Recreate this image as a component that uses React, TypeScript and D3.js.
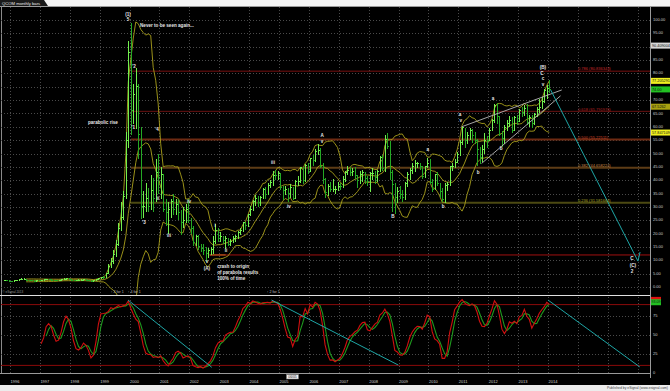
import React from "react";
import * as d3 from "d3";

// ---------- DATA (monthly bars, first bar = Oct 1995) ----------
const firstYear = 1995;
const firstMonth = 9; // October (0-based)

const highs = [
  2.6, 2.6, 2.5,
  2.4, 2.5, 2.7, 2.9, 3.2, 3.2, 3.0, 2.7, 2.6, 2.5, 2.6, 2.6,
  2.7, 2.9, 3.1, 3.0, 2.9, 2.8, 2.7, 2.8, 3.0, 3.2, 3.3, 3.1,
  3.0, 2.8, 2.8, 2.9, 2.9, 3.0, 2.9, 2.7, 2.5, 2.8, 3.1, 3.4,
  3.9, 4.0, 5.4, 8.6, 11.0, 13.8, 17.5, 24.0, 32.0, 36.0, 58.0, 92.0,
  99.0, 76, 82, 76, 60, 36, 39, 37, 42, 41, 48, 50,
  45, 42, 33, 32, 33, 35, 33, 33, 29, 30, 31, 33,
  26, 23, 19.5, 19.5, 16, 16, 15, 14.5, 15, 19, 23.5, 22,
  20.5, 19, 19, 18.5, 18, 19, 19.5, 21, 22, 24.5, 24.5, 27.5,
  30.5, 32.5, 34.5, 34, 34, 37, 37.5, 39, 40, 43.5, 44, 43.5,
  42.5, 38, 38, 37, 38.5, 37.5, 40, 41.5, 45, 45, 46, 46.5,
  48.5, 49.5, 51.5, 53.5, 52, 46.5, 41, 38.5, 39.5, 40.5, 38, 39.5,
  39, 41.5, 43.5, 45.5, 45, 44.5, 45, 42, 43.5, 44, 43, 41.5,
  43, 44.5, 43.5, 44, 49, 49.5, 57, 57.5, 54.5, 44, 39, 37.5,
  38, 36.5, 39.5, 43, 44.5, 46.5, 47.5, 47, 46.5, 45.5, 45.5, 48.5,
  48, 40.5, 42.5, 43, 39, 37, 39, 39.5, 45.5, 46.5, 48, 50.5,
  55, 60, 59.5, 58, 59.5, 59, 58, 55.5, 52.5, 53, 57.5, 56.5,
  59.5, 63, 68.5, 68.8, 64, 58.5, 60.5, 62.5, 64, 63.5, 64, 64.5,
  66.5, 67.5, 68, 68.5, 64.5, 64.5, 65, 67.5, 70.5, 71, 74, 75.5,
  77.4,
];
const lows = [
  2.1, 2.1, 2.0,
  1.9, 2.0, 2.2, 2.4, 2.6, 2.6, 2.3, 2.2, 2.1, 2.0, 2.1, 2.1,
  2.2, 2.4, 2.6, 2.5, 2.4, 2.3, 2.2, 2.3, 2.5, 2.6, 2.7, 2.6,
  2.4, 2.3, 2.3, 2.4, 2.4, 2.5, 2.3, 2.1, 2.0, 2.1, 2.4, 2.8,
  3.0, 3.1, 3.3, 4.8, 7.0, 8.8, 11.2, 15.5, 21.0, 25.0, 33.0, 52.0,
  57, 61, 59, 48, 25.5, 26, 28, 28, 29, 28, 32, 35,
  33, 28, 23, 20, 26, 27, 27, 25, 19.5, 22, 24, 24,
  20, 15.5, 15.5, 14, 13, 12, 9.5, 11, 12, 12.5, 16, 17,
  17, 16, 14.3, 15.5, 15.5, 16.5, 17, 18, 19.5, 20.5, 21.5, 22.5,
  26.5, 28.5, 30.5, 30, 30.5, 33, 33, 34.5, 37, 38, 40, 40,
  36.5, 32.5, 34.5, 32, 33.5, 32.5, 33, 38, 39, 38.5, 39.5, 42.5,
  43, 45.5, 47, 49.5, 44.5, 38.5, 33.5, 34, 35.5, 35.5, 35, 36,
  36.5, 37, 39.5, 42, 41.5, 41.5, 40.5, 37, 38.5, 39.5, 38.5, 38,
  35.5, 40, 38.5, 39.5, 43, 43.5, 43, 51.5, 40, 28, 27.5, 31.5,
  33, 32, 32.5, 37.5, 40, 42.5, 43, 44.5, 44, 40.5, 41, 44.5,
  38.5, 35.5, 36.5, 38, 33.5, 32, 31.5, 36, 38, 43.5, 44.5, 46.5,
  49, 53, 52, 53.5, 55, 54, 53.5, 45.5, 46, 47, 50, 52,
  54.5, 58.5, 61.5, 61, 56.5, 52.5, 53.5, 58.5, 60, 57.5, 58.5, 60.5,
  62, 63.5, 64, 60.5, 60, 59.5, 60.5, 63.5, 65, 66.5, 69, 70.5,
  72.6,
];
const closes = [
  2.4, 2.3, 2.2,
  2.1, 2.3, 2.5, 2.7, 2.9, 2.9, 2.5, 2.4, 2.3, 2.2, 2.4, 2.3,
  2.5, 2.7, 2.9, 2.7, 2.6, 2.5, 2.4, 2.6, 2.8, 2.9, 3.0, 2.8,
  2.6, 2.5, 2.5, 2.6, 2.6, 2.7, 2.5, 2.3, 2.2, 2.5, 2.9, 3.2,
  3.5, 3.4, 5.0, 7.6, 9.6, 12.0, 16.0, 22.0, 26.0, 34.0, 55.0, 88.0,
  66, 72, 75, 57, 30, 30, 33, 30, 36, 33, 43, 41,
  42, 29, 28, 29, 32, 29, 31, 28, 24, 25, 29, 25,
  22, 16.5, 19, 15, 14.5, 13.8, 12.5, 13.5, 14, 17, 21, 18.2,
  19, 17.5, 18, 16, 17, 18, 19, 20.5, 21, 24, 23, 27,
  29, 32, 33, 31.5, 33.5, 36.5, 34.5, 38, 39, 41.8, 41.6, 42.4,
  37.2, 36, 36.6, 34.9, 37.2, 33, 39.5, 39.7, 44.7, 39.8, 45.5, 43.1,
  48, 47.2, 50.6, 51.3, 45.2, 40.1, 35.3, 37.7, 36.4, 36.4, 36.6, 37.8,
  37.7, 40.4, 42.7, 43.8, 42.9, 43.4, 41.6, 39.9, 42.3, 42.7, 40.8, 39.4,
  42.4, 42.4, 41, 43.2, 48.5, 44.4, 55.3, 52.6, 43, 38.3, 33.6, 35.8,
  34.5, 33.4, 38.9, 42.3, 43.6, 45.2, 46.2, 46.4, 45, 41.4, 45, 46.3,
  39.2, 36.7, 42, 38.7, 35.6, 32.8, 38.1, 38.3, 45.1, 45.1, 46.7, 49.5,
  54.1, 59.6, 54.8, 56.9, 58.6, 56.8, 54.8, 51.5, 48.6, 51.6, 54.8, 54.7,
  58.8, 62.2, 68, 63.8, 57.3, 55.7, 59.7, 61.4, 62.5, 58.6, 63.6, 61.9,
  66, 65.5, 66.9, 61.6, 63.5, 61.1, 64.5, 66.3, 67.3, 69.5, 73.6, 74.3,
  74.0,
];

const yearLabels = ["1996","1997","1998","1999","2000","2001","2002","2003","2004","2005","2006","2007","2008","2009","2010","2011","2012","2013","2014"];
const gridYears = [1996,1997,1998,1999,2000,2001,2002,2003,2004,2005,2006,2007,2008,2009,2010,2011,2012,2013,2014,2015,2016,2017];
const priceTicks = [0,5,10,15,20,25,30,35,40,45,50,55,60,65,70,75,80,85,90,95,100];
const oscTicks = [75,50,25,0];
const oscLevels = [90,10];

const fibRatios = ["0.786","0.618","0.500","0.382","0.236"];
const fibValues = [80.836343, 65.791976, 55.22511, 44.658224, 31.581664];
const fibStart = 2000.05;

const crashLevel = 12;
const crashStart = 2002.68;

// right-axis value flags
const flagValues = [90.409004, 77.205291, 74.0, 67.5262, 57.847109];
const flagTexts = ["90.409004", "77.205291", "74.00", "67.5262", "57.847109"];
const oscFlagValues = [96.2, 93.1];
const oscFlagTexts = ["96.20", "93.09"];

// Elliott-wave & annotation labels (time, price, text)
const waveLabels: [number, number, string][] = [
  [1999.95, 101.9, "(1)"], [1999.95, 99.9, "5"],
  [2000.15, 82.4, "'2"], [2000.12, 59.6, "'1"], [2000.92, 58.8, "'4"],
  [2000.48, 24.0, "'3"], [2000.95, 33.0, "ii"], [2001.32, 19.1, "iii"],
  [2001.99, 31.8, "iv"], [2002.59, 9.6, "v"], [2002.59, 6.8, "(A)"],
  [2002.86, 22.8, "i"], [2003.23, 13.5, "ii"],
  [2004.8, 46.4, "iii"], [2005.33, 30.0, "iv"],
  [2006.44, 56.6, "A"], [2006.44, 54.4, "v"], [2008.81, 26.2, "B"],
  [2009.98, 51.3, "a"], [2010.49, 30.0, "b"],
  [2011.06, 64.4, "a"], [2011.08, 62.2, "v"], [2011.66, 42.7, "b"],
  [2012.16, 70.4, "a"], [2012.43, 51.7, "b"],
  [2013.83, 82.0, "(B)"], [2013.8, 79.8, "C"], [2013.83, 77.9, "c"], [2013.83, 75.7, "v"],
  [2016.81, 10.5, "C"], [2016.84, 7.9, "(C)"], [2016.81, 5.6, "2"],
];
const noteLines: [number, number, string][] = [
  [2000.35, 97.8, "Never to be seen again..."],
  [1998.61, 61.4, "parabolic rise"],
  [2002.93, 7.5, "crash to origin"],
  [2002.93, 5.2, "of parabola results"],
  [2002.93, 3.0, "100% of time"],
];
const splitTimes = [1999.37, 1999.94, 2004.59];
const splitTexts = ["2 for 1", "4 for 1", "2 for 1"];

// trend lines: [t1, v1, t2, v2]
const wedgeLines = [
  [2011.11, 60.0, 2014.46, 73.8],
  [2011.78, 46.3, 2014.42, 71.6],
];
const projection = [[2014.09, 73.8], [2017.01, 9.7], [2017.08, 13.1]];
const oscTrendLines = [
  [1999.95, 96, 2002.75, 7.5],
  [2004.75, 96, 2008.99, 10.5],
  [2014.0, 96, 2017.07, 8],
];

// ---------- SCALES ----------
const X = d3.scaleLinear().domain([1996, 2014]).range([10, 548]);
const Y = d3.scaleLinear().domain([0, 100]).range([287, 20]);
const YO = d3.scaleLinear().domain([0, 100]).range([373, 297]);

const FONT = "'Liberation Sans', Arial, sans-serif";

type Bar = { t: number; o: number; h: number; l: number; c: number };

function buildBars(): Bar[] {
  return closes.map((c, i) => {
    const m = firstMonth + i;
    const t = firstYear + (m + 0.5) / 12;
    const prev = i > 0 ? closes[i - 1] : c;
    const o = Math.min(highs[i], Math.max(lows[i], prev));
    return { t, o, h: highs[i], l: lows[i], c };
  });
}

function bollinger(bars: Bar[], n: number, k: number) {
  return bars.map((b, i) => {
    if (i < n - 1) return null;
    const w = closes.slice(i - n + 1, i + 1);
    const m = d3.mean(w)!;
    const sd = Math.sqrt(d3.mean(w.map((v) => (v - m) * (v - m)))!);
    return { t: b.t, mid: m, up: m + k * sd, lo: m - k * sd };
  });
}

function stochastic(bars: Bar[], n: number, s: number, d: number) {
  const raw = bars.map((b, i) => {
    if (i < n - 1) return null;
    const hh = d3.max(highs.slice(i - n + 1, i + 1))!;
    const ll = d3.min(lows.slice(i - n + 1, i + 1))!;
    return hh === ll ? 50 : ((b.c - ll) / (hh - ll)) * 100;
  });
  const sma = (arr: (number | null)[], p: number) =>
    arr.map((_, i) => {
      if (i < p - 1) return null;
      const w = arr.slice(i - p + 1, i + 1);
      if (w.some((v) => v == null)) return null;
      return d3.mean(w as number[])!;
    });
  const k = sma(raw, s);
  const dd = sma(k, d);
  return { k, d: dd };
}

export default function App() {
  const bars = buildBars();
  const bb = bollinger(bars, 10, 2);
  const st = stochastic(bars, 14, 3, 3);

  const bbLine = (key: "mid" | "up" | "lo") =>
    d3
      .line<any>()
      .defined((d) => d != null)
      .x((d) => X(d.t))
      .y((d) => Y(d[key]))(bb as any) || "";

  const oscLine = (arr: (number | null)[]) =>
    d3
      .line<number | null>()
      .defined((d) => d != null)
      .x((_, i) => X(bars[i].t))
      .y((d) => YO(d as number))(arr) || "";

  const gridColor = "#4a4a4a";
  const fibLine = ["#7a1010", "#6a1212", "#6e2a12", "#5e3c16", "#4c4a12"];
  const fibW = [1, 1, 2, 2, 2];
  const fibText = ["#c82828", "#b82222", "#d0482a", "#c8884a", "#a8a428"];
  const flagFill = ["#d8d8d8", "#f0f020", "#22c022", "#a8a010", "#f0f020"];

  // tick labels hidden behind a value flag
  const visibleTicks = priceTicks.filter((p) => flagValues.every((v) => Math.abs(Y(v) - Y(p)) > 5));

  return (
    <svg
      width={670}
      height={391}
      style={{ position: "fixed", left: 0, top: 0, display: "block" }}
      fontFamily={FONT}
    >
      <defs>
        <clipPath id="pp">
          <rect x={1} y={7} width={649} height={288} />
        </clipPath>
        <clipPath id="op">
          <rect x={1} y={297} width={649} height={76} />
        </clipPath>
      </defs>
      <rect x={0} y={0} width={670} height={391} fill="#000" />
      {/* top strip & tab */}
      <rect x={0} y={0} width={670} height={6} fill="#f4f4f4" />
      <path d="M0,0 L44,0 L48,6 L0,6 Z" fill="#1a1a1a" />
      <text x={2} y={4.6} fontSize={4.2} fill="#e8e8e8">QCOM monthly bars</text>
      <line x1={0} x2={670} y1={6.5} y2={6.5} stroke="#9a9a9a" strokeWidth={1} />
      <line x1={1.5} x2={1.5} y1={6.5} y2={373} stroke="#8a8a8a" strokeWidth={1} />

      {/* grid price pane */}
      <g clipPath="url(#pp)">
        {priceTicks.map((p) => (
          <line key={"hg" + p} x1={1} x2={650} y1={Math.round(Y(p)) + 0.5} y2={Math.round(Y(p)) + 0.5}
            stroke={gridColor} strokeWidth={1} strokeDasharray="1,2" />
        ))}
        {gridYears.map((yr) => (
          <line key={"vg" + yr} x1={Math.round(X(yr)) + 0.5} x2={Math.round(X(yr)) + 0.5} y1={7} y2={295}
            stroke={gridColor} strokeWidth={1} strokeDasharray="1,2" />
        ))}
        {/* fib lines */}
        {fibValues.map((v, i) => (
          <line key={"fb" + i} x1={X(fibStart)} x2={650} y1={Y(v)} y2={Y(v)}
            stroke={fibLine[i]} strokeWidth={fibW[i]} />
        ))}
        {/* crash line */}
        <line x1={X(crashStart)} x2={650} y1={Y(crashLevel)} y2={Y(crashLevel)} stroke="#a01010" strokeWidth={1} />
        <line x1={X(crashStart)} x2={X(crashStart) + 16} y1={Y(crashLevel)} y2={Y(crashLevel)} stroke="#c86a20" strokeWidth={1} />

        {/* Bollinger bands */}
        <path d={bbLine("up")} fill="none" stroke="#aaa01c" strokeWidth={0.9} />
        <path d={bbLine("mid")} fill="none" stroke="#aaa01c" strokeWidth={0.9} />
        <path d={bbLine("lo")} fill="none" stroke="#aaa01c" strokeWidth={0.9} />

        {/* bars */}
        <g shapeRendering="crispEdges">
          {bars.map((b, i) => {
            const cx = Math.round(X(b.t)) + 0.5;
            const col = b.c >= b.o ? "#72f04e" : "#24a824";
            return (
              <g key={"b" + i} stroke={col} strokeWidth={1}>
                <line x1={cx} x2={cx} y1={Y(b.h)} y2={Y(b.l)} />
                <line x1={cx - 1} x2={cx} y1={Y(b.o)} y2={Y(b.o)} />
                <line x1={cx} x2={cx + 1} y1={Y(b.c)} y2={Y(b.c)} />
              </g>
            );
          })}
        </g>

        {/* wedge */}
        {wedgeLines.map((l, i) => (
          <line key={"w" + i} x1={X(l[0])} y1={Y(l[1])} x2={X(l[2])} y2={Y(l[3])} stroke="#b8b8b8" strokeWidth={0.9} />
        ))}
        <path d={d3.line<number[]>().x((d) => X(d[0])).y((d) => Y(d[1]))(projection) || ""}
          fill="none" stroke="#1ea6a6" strokeWidth={1} />

        {/* fib labels */}
        {fibValues.map((v, i) => (
          <text key={"fl" + i} x={578} y={Y(v) - 0.8} fontSize={4} fill={fibText[i]}>
            {fibRatios[i] + " (" + v + ")"}
          </text>
        ))}

        {/* wave labels */}
        {waveLabels.map(([t, p, s], i) => (
          <text key={"wl" + i} x={X(t)} y={Y(p)} fontSize={4.6} fill="#e6e6e6" fontWeight="bold"
            textAnchor="middle" dominantBaseline="middle">{s}</text>
        ))}
        {noteLines.map(([t, p, s], i) => (
          <text key={"nl" + i} x={X(t)} y={Y(p)} fontSize={4.6} fill="#e6e6e6" fontWeight="bold"
            dominantBaseline="middle">{s}</text>
        ))}
        {/* splits */}
        {splitTimes.map((t, i) => (
          <text key={"sp" + i} x={X(t)} y={292.5} fontSize={3.6} fill="#bdbdbd">{"\u2191 " + splitTexts[i]}</text>
        ))}
        <text x={2.5} y={292.5} fontSize={3} fill="#9a9a9a">© eSignal 2013</text>
      </g>

      {/* pane separator */}
      <line x1={0} x2={650} y1={295.5} y2={295.5} stroke="#e0e0e0" strokeWidth={1} />

      {/* oscillator pane */}
      <g clipPath="url(#op)">
        {oscTicks.map((v) => (
          <line key={"og" + v} x1={1} x2={650} y1={Math.round(YO(v)) + 0.5} y2={Math.round(YO(v)) + 0.5}
            stroke={gridColor} strokeWidth={1} strokeDasharray="1,2" />
        ))}
        {gridYears.map((yr) => (
          <line key={"ovg" + yr} x1={Math.round(X(yr)) + 0.5} x2={Math.round(X(yr)) + 0.5} y1={297} y2={373}
            stroke={gridColor} strokeWidth={1} strokeDasharray="1,2" />
        ))}
        {oscLevels.map((v) => (
          <line key={"ol" + v} x1={1} x2={650} y1={YO(v)} y2={YO(v)} stroke="#8a0a0a" strokeWidth={1} />
        ))}
        <path d={oscLine(st.d)} fill="none" stroke="#1e9a1e" strokeWidth={1.1} />
        <path d={oscLine(st.k)} fill="none" stroke="#d01010" strokeWidth={1.1} />
        {oscTrendLines.map((l, i) => (
          <line key={"ot" + i} x1={X(l[0])} y1={YO(l[1])} x2={X(l[2])} y2={YO(l[3])} stroke="#1ea6a6" strokeWidth={1} />
        ))}
      </g>
      <line x1={0} x2={650} y1={373.5} y2={373.5} stroke="#9a9a9a" strokeWidth={1} />

      {/* right axis */}
      <line x1={650.5} x2={650.5} y1={6.5} y2={378} stroke="#9a9a9a" strokeWidth={1} />
      {visibleTicks.map((p) => (
        <text key={"pt" + p} x={653} y={Y(p)} fontSize={4} fill="#cfcfcf" dominantBaseline="middle">
          {d3.format(".2f")(p)}
        </text>
      ))}
      {flagValues.map((v, i) => (
        <g key={"fg" + i}>
          <rect x={651} y={Y(v) - 3} width={19} height={6} fill={flagFill[i]} />
          <text x={652} y={Y(v) + 0.2} fontSize={3.8} fill="#111" dominantBaseline="middle">{flagTexts[i]}</text>
        </g>
      ))}
      {oscTicks.map((v) => (
        <text key={"otk" + v} x={653} y={YO(v)} fontSize={4} fill="#cfcfcf" dominantBaseline="middle">{v}</text>
      ))}
      <rect x={651} y={YO(oscFlagValues[0]) - 3} width={10} height={6} fill="#e01010" />
      <rect x={651} y={YO(oscFlagValues[1]) - 3} width={10} height={6} fill="#22c022" />
      <text x={651.5} y={YO(oscFlagValues[1]) + 0.2} fontSize={3.6} fill="#111" dominantBaseline="middle">{oscFlagTexts[1]}</text>

      {/* x axis labels */}
      {yearLabels.map((s) => (
        <text key={"yl" + s} x={X(+s) + 0.5} y={381.8} fontSize={4} fill="#cfcfcf" dominantBaseline="middle">{s}</text>
      ))}
      <rect x={286.5} y={374.5} width={12} height={4.5} fill="#f0f0f0" stroke="#777" strokeWidth={0.5} />
      <text x={292.5} y={377} fontSize={3.4} fill="#222" textAnchor="middle" dominantBaseline="middle">06/05</text>

      {/* bottom strip */}
      <rect x={0} y={385} width={670} height={6} fill="#ececec" />
      <text x={668} y={388.5} fontSize={3.4} fill="#444" textAnchor="end" dominantBaseline="middle">
        Published by eSignal (www.esignal.com)
      </text>
    </svg>
  );
}
